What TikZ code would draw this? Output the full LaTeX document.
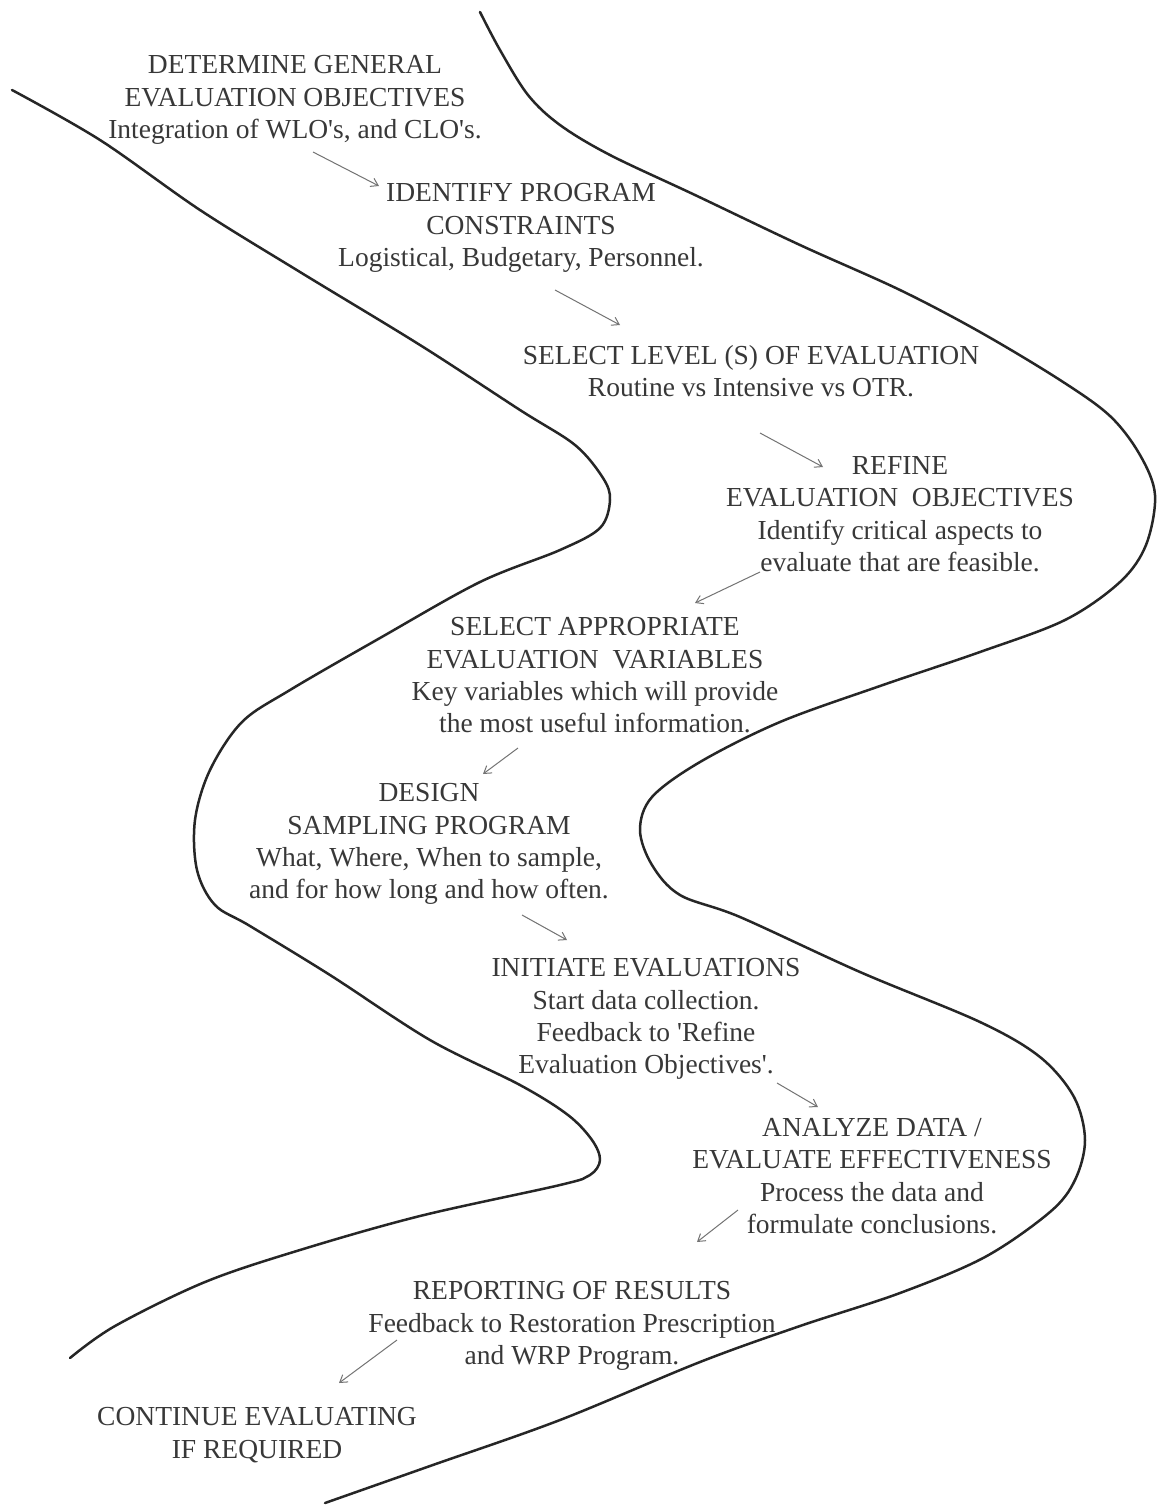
\documentclass[tikz,border=0pt]{standalone}
\usepackage{fontspec}
\setmainfont{Liberation Serif}
\usetikzlibrary{arrows.meta}
\definecolor{txt}{gray}{0.22}
\newcommand{\sq}{\textquotesingle}
\tikzset{
  lbl/.style={anchor=north, align=center, inner sep=0pt, text=txt,
    font=\fontsize{13.75}{16.2}\selectfont},
  arr/.style={draw=black!55, line width=0.5pt, -{Straight Barb[length=3.5pt,width=4.5pt]}},
  bank/.style={draw=black!85, line width=1.25pt, line cap=round, line join=round}
}
\begin{document}
\begin{tikzpicture}[x=0.5pt,y=-0.5pt]
\useasboundingbox (0,0) rectangle (1158,1506);
\fill[white] (0,0) rectangle (1158,1506);

% banks
\draw[bank] plot[smooth, tension=0.55] coordinates {
 (12,90) (100,140) (200,210) (300,272) (420,345) (520,410) (575,445) (603,478) (610,500)
 (600,528) (560,550) (480,582) (380,638) (290,690) (242,722) (210,770) (195,820) (197,870)
 (215,905) (250,926) (330,975) (430,1040) (520,1085) (568,1115) (592,1140) (600,1160)
 (590,1175) (560,1185) (420,1216) (300,1250) (205,1282) (115,1326) (70,1358)};
\draw[bank] plot[smooth, tension=0.55] coordinates {
 (480,12) (500,50) (528,95) (560,125) (610,155) (695,195) (800,245) (900,290) (980,332)
 (1060,380) (1110,416) (1140,455) (1155,495) (1146,545) (1120,582) (1065,620) (980,652)
 (880,686) (780,722) (700,762) (652,797) (640,830) (652,865) (680,895) (740,917) (860,972)
 (980,1022) (1040,1057) (1074,1097) (1085,1140) (1075,1180) (1050,1212) (985,1257)
 (900,1293) (800,1326) (700,1362) (560,1420) (430,1466) (325,1503)};

% texts
\node[lbl] (n1) at (295,55) {DETERMINE GENERAL\\EVALUATION OBJECTIVES\\Integration of WLO\sq s, and CLO\sq s.};
\node[lbl] (n2) at (521,183) {IDENTIFY PROGRAM\\CONSTRAINTS\\Logistical, Budgetary, Personnel.};
\node[lbl] (n3) at (751,345) {SELECT LEVEL (S) OF EVALUATION\\Routine vs Intensive vs OTR.};
\node[lbl] (n4) at (900,456) {REFINE\\EVALUATION\ \ OBJECTIVES\\Identify critical aspects to\\evaluate that are feasible.};
\node[lbl] (n5) at (595,617) {SELECT APPROPRIATE\\EVALUATION\ \ VARIABLES\\Key variables which will provide\\the most useful information.};
\node[lbl] (n6) at (429,783) {DESIGN\\SAMPLING PROGRAM\\What, Where, When to sample,\\and for how long and how often.};
\node[lbl] (n7) at (646,958) {INITIATE EVALUATIONS\\Start data collection.\\Feedback to \sq Refine\\Evaluation Objectives\sq .};
\node[lbl] (n8) at (872,1118) {ANALYZE DATA /\\EVALUATE EFFECTIVENESS\\Process the data and\\formulate conclusions.};
\node[lbl] (n9) at (572,1281) {REPORTING OF RESULTS\\Feedback to Restoration Prescription\\and WRP Program.};
\node[lbl] (n10) at (257,1407) {CONTINUE EVALUATING\\IF REQUIRED};

% arrow end points
\coordinate (a1s) at (313,152); \coordinate (a1e) at (379,186);
\coordinate (a2s) at (555,290); \coordinate (a2e) at (620,325);
\coordinate (a3s) at (760,433); \coordinate (a3e) at (823,467);
\coordinate (a4s) at (760,572); \coordinate (a4e) at (695,603);
\coordinate (a5s) at (518,748); \coordinate (a5e) at (483,774);
\coordinate (a6s) at (522,915); \coordinate (a6e) at (567,940);
\coordinate (a7s) at (777,1083); \coordinate (a7e) at (818,1107);
\coordinate (a8s) at (738,1210); \coordinate (a8e) at (697,1242);
\coordinate (a9s) at (397,1340); \coordinate (a9e) at (339,1383);
\foreach \i in {1,...,9} { \draw[arr] (a\i s) -- (a\i e); }
\end{tikzpicture}
\end{document}
